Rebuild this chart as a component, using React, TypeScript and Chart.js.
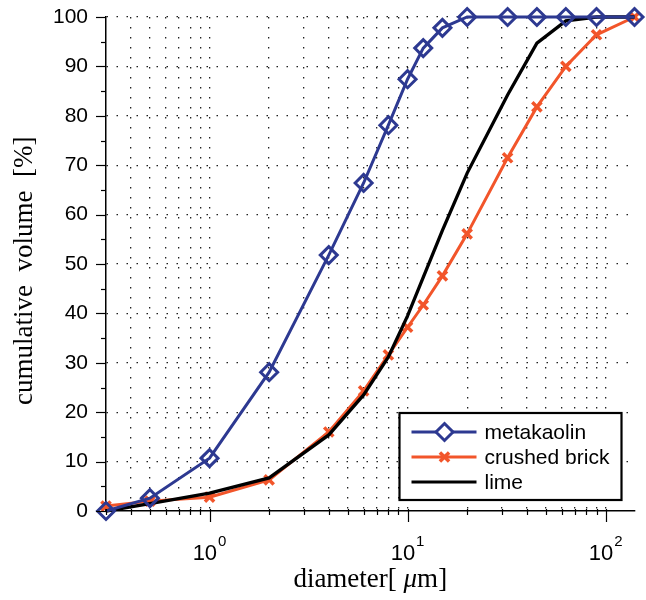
import React, { useEffect, useRef } from 'react';
import { Chart, registerables } from 'chart.js';

Chart.register(...registerables);

// ---- data ----
const DIAMETERS = [0.3, 0.5, 1, 2, 4, 6, 8, 10, 12, 15, 20, 32, 45, 63, 90, 140];
const METAKAOLIN = [0, 2.6, 10.7, 28.1, 51.8, 66.4, 78.1, 87.4, 93.7, 97.8, 100, 100, 100, 100, 100, 100];
const CRUSHED_BRICK = [1.0, 2.0, 2.8, 6.3, 16.0, 24.3, 31.6, 37.2, 41.7, 47.6, 56.1, 71.5, 81.8, 90.0, 96.4, 100];
const LIME = [0, 1.5, 3.6, 6.7, 15.4, 23.5, 31.2, 39.5, 47.3, 56.8, 68.4, 84.2, 94.7, 99.2, 100, 100];
const SERIES_NAMES = ['metakaolin', 'crushed brick', 'lime'];

const X_TICKS = [0.3, 0.4, 0.5, 0.6, 0.7, 0.8, 0.9, 1, 2, 3, 4, 5, 6, 7, 8, 9, 10, 20, 30, 40, 50, 60, 70, 80, 90, 100];
const X_MAJOR = [1, 10, 100];
const X_EXPONENTS = ['0', '1', '2'];
const Y_TICKS = [0, 5, 10, 15, 20, 25, 30, 35, 40, 45, 50, 55, 60, 65, 70, 75, 80, 85, 90, 95, 100];

const BLUE = '#2D3991';
const ORANGE = '#F2552A';
const BLACK = '#000000';
const GRID = 'rgba(20,20,20,0.95)';
const SANS = '"Liberation Sans", Arial, sans-serif';
const SERIF = '"Liberation Serif", "Times New Roman", serif';

function drawDiamond(ctx: CanvasRenderingContext2D, x: number, y: number, r: number) {
  ctx.beginPath();
  ctx.moveTo(x, y - r);
  ctx.lineTo(x + r, y);
  ctx.lineTo(x, y + r);
  ctx.lineTo(x - r, y);
  ctx.closePath();
  ctx.fill();
  ctx.stroke();
}
function drawCross(ctx: CanvasRenderingContext2D, x: number, y: number, r: number) {
  const d = r * Math.SQRT1_2;
  ctx.beginPath();
  ctx.moveTo(x - d, y - d);
  ctx.lineTo(x + d, y + d);
  ctx.moveTo(x + d, y - d);
  ctx.lineTo(x - d, y + d);
  ctx.stroke();
}

const decorPlugin = {
  id: 'decor',
  afterDraw(chart: any) {
    const { ctx, chartArea, scales } = chart;
    const xs = scales.x;
    const ys = scales.y;
    ctx.save();
    // axis tick marks
    ctx.strokeStyle = '#000';
    ctx.lineWidth = 1.2;
    for (const v of Y_TICKS) {
      const py = Math.round(ys.getPixelForValue(v)) + 0.5;
      const len = v % 10 === 0 ? 10 : 5;
      ctx.beginPath();
      ctx.moveTo(chartArea.left - len, py);
      ctx.lineTo(chartArea.left, py);
      ctx.stroke();
    }
    for (const v of X_TICKS) {
      const px = Math.round(xs.getPixelForValue(v)) + 0.5;
      const major = X_MAJOR.includes(v);
      ctx.beginPath();
      ctx.moveTo(px, chartArea.bottom - 2);
      ctx.lineTo(px, chartArea.bottom + (major ? 11 : 4));
      ctx.stroke();
    }
    // x tick labels 10^n
    ctx.fillStyle = '#000';
    ctx.textBaseline = 'alphabetic';
    ctx.textAlign = 'left';
    X_MAJOR.forEach((v, i) => {
      const px = xs.getPixelForValue(v);
      ctx.font = `22px ${SANS}`;
      const wb = ctx.measureText('10').width;
      ctx.font = `15px ${SANS}`;
      const we = ctx.measureText(X_EXPONENTS[i]).width;
      const start = px - (wb + we + 1) / 2;
      ctx.font = `22px ${SANS}`;
      ctx.fillText('10', start, chartArea.bottom + 49);
      ctx.font = `15px ${SANS}`;
      ctx.fillText(X_EXPONENTS[i], start + wb + 1, chartArea.bottom + 35);
    });
    // x axis title with italic mu
    const cx = (chartArea.left + chartArea.right) / 2;
    const ty = chartArea.bottom + 76;
    const parts = [
      { t: 'diameter[ ', f: `27px ${SERIF}` },
      { t: 'μ', f: `italic 27px ${SERIF}` },
      { t: 'm]', f: `27px ${SERIF}` },
    ];
    let total = 0;
    for (const p of parts) { ctx.font = p.f; total += ctx.measureText(p.t).width; }
    let x0 = cx - total / 2;
    for (const p of parts) { ctx.font = p.f; ctx.fillText(p.t, x0, ty); x0 += ctx.measureText(p.t).width; }

    // legend box
    const w = 222, h = 87;
    const right = chartArea.right - 13;
    const bottom = chartArea.bottom - 11;
    const left = right - w, top = bottom - h;
    ctx.fillStyle = '#fff';
    ctx.fillRect(left, top, w, h);
    ctx.lineWidth = 2.2;
    ctx.strokeStyle = '#000';
    ctx.strokeRect(left, top, w, h);
    const colors = [BLUE, ORANGE, BLACK];
    SERIES_NAMES.forEach((name, i) => {
      const cy = top + 19 + i * 25;
      ctx.strokeStyle = colors[i];
      ctx.lineWidth = 3.2;
      ctx.beginPath();
      ctx.moveTo(left + 12, cy);
      ctx.lineTo(left + 77, cy);
      ctx.stroke();
      if (i === 0) { ctx.lineWidth = 3; ctx.fillStyle = '#fff'; drawDiamond(ctx, left + 45, cy, 8.5); }
      if (i === 1) { ctx.lineWidth = 3.5; drawCross(ctx, left + 45, cy, 6.5); }
      ctx.fillStyle = '#000';
      ctx.font = `21px ${SANS}`;
      ctx.textBaseline = 'middle';
      ctx.fillText(name, left + 85, cy + 1);
    });
    ctx.restore();
  },
};

export default function App() {
  const canvasRef = useRef<HTMLCanvasElement | null>(null);

  useEffect(() => {
    document.body.style.margin = '0';
    const canvas = canvasRef.current;
    if (!canvas) return;
    const toPts = (ys: number[]) => DIAMETERS.map((d, i) => ({ x: d, y: ys[i] }));
    const chart = new Chart(canvas, {
      type: 'line',
      data: {
        datasets: [
          {
            label: SERIES_NAMES[0],
            data: toPts(METAKAOLIN),
            borderColor: BLUE,
            borderWidth: 3,
            pointStyle: 'rectRot',
            pointRadius: 8.5,
            pointBorderWidth: 3,
            pointBorderColor: BLUE,
            pointBackgroundColor: 'rgba(255,255,255,0)',
            tension: 0,
            clip: false,
            order: 0,
          },
          {
            label: SERIES_NAMES[2],
            data: toPts(LIME),
            borderColor: BLACK,
            borderWidth: 3.3,
            pointRadius: 0,
            tension: 0,
            clip: false,
            order: 1,
          },
          {
            label: SERIES_NAMES[1],
            data: toPts(CRUSHED_BRICK),
            borderColor: ORANGE,
            borderWidth: 3,
            pointStyle: 'crossRot',
            pointRadius: 6.5,
            pointBorderWidth: 3.5,
            pointBorderColor: ORANGE,
            tension: 0,
            clip: false,
            order: 2,
          },
        ] as any,
      },
      options: {
        animation: false,
        responsive: false,
        layout: { padding: { left: 0, right: 11, top: 17, bottom: 0 } },
        plugins: { legend: { display: false }, tooltip: { enabled: false } },
        scales: {
          x: {
            type: 'logarithmic',
            min: 0.3,
            max: 140,
            afterBuildTicks: (s: any) => {
              s.ticks = X_TICKS.map((v) => ({ value: v, major: X_MAJOR.includes(v) }));
            },
            afterFit: (s: any) => { s.height = 89; },
            ticks: { display: false, autoSkip: false, padding: 0 },
            grid: {
              drawTicks: false,
              color: (c: any) => (c.tick && X_TICKS.includes(c.tick.value) && c.tick.value !== 0.3 ? GRID : 'rgba(0,0,0,0)'),
              lineWidth: 1.3,
            },
            border: { display: true, color: '#000', width: 1.5, dash: [1.5, 8.5] },
          },
          y: {
            type: 'linear',
            min: 0,
            max: 100,
            afterBuildTicks: (s: any) => {
              s.ticks = Y_TICKS.map((v) => ({ value: v }));
            },
            afterFit: (s: any) => { s.width = 106; },
            ticks: {
              autoSkip: false,
              padding: 0,
              color: '#000',
              font: { family: SANS, size: 21 },
              callback: (v: any) => (Number(v) % 10 === 0 ? String(v) : ''),
            },
            grid: {
              drawTicks: true,
              tickLength: 18,
              tickColor: 'rgba(0,0,0,0)',
              color: (c: any) => (c.tick && c.tick.value % 10 === 0 && c.tick.value !== 0 ? GRID : 'rgba(0,0,0,0)'),
              lineWidth: 1.3,
            },
            border: { display: true, color: '#000', width: 1.5, dash: [1.5, 8.5] },
            title: {
              display: true,
              text: 'cumulative  volume  [%]  ',
              color: '#000',
              font: { family: SERIF, size: 27 },
              padding: { top: 9, bottom: 0 },
            },
          },
        },
      } as any,
      plugins: [decorPlugin],
    });
    return () => chart.destroy();
  }, []);

  return (
    <div style={{ width: 646, height: 600 }}>
      <canvas ref={canvasRef} width={646} height={600} />
    </div>
  );
}
